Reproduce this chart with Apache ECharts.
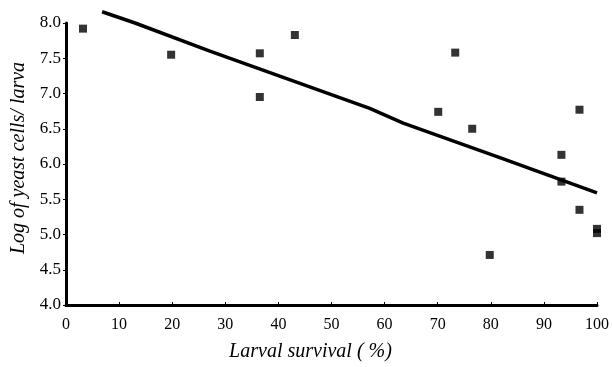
<!DOCTYPE html>
<html><head><meta charset="utf-8">
<script src="https://cdn.jsdelivr.net/npm/echarts@6/dist/echarts.min.js"></script>
<style>html,body{margin:0;padding:0;background:#fff}#c{width:612px;height:367px}</style>
</head><body><div id="c"></div>
<script>
var survival = [3.2, 19.8, 36.5, 36.5, 43.1, 70.1, 73.3, 76.5, 79.8, 93.3, 93.3, 96.7, 96.7, 100, 100];
var yeastLog = [7.92, 7.55, 7.57, 6.95, 7.83, 6.74, 7.58, 6.50, 4.71, 6.13, 5.75, 6.77, 5.35, 5.08, 5.02];
var fitX = [6.8, 13, 27.1, 57.2, 63.5, 81.7, 100];
var fitY = [8.16, 8.00, 7.60, 6.79, 6.58, 6.09, 5.59];
var xTicks = [0, 10, 20, 30, 40, 50, 60, 70, 80, 90, 100];
var yTicks = [4.0, 4.5, 5.0, 5.5, 6.0, 6.5, 7.0, 7.5, 8.0];

var pts = survival.map(function(v, i){ return [v, yeastLog[i]]; });
var fit = fitX.map(function(v, i){ return [v, fitY[i]]; });
var font = '"Liberation Serif", "DejaVu Serif", serif';
var chart = echarts.init(document.getElementById('c'));
chart.setOption({
  animation: false,
  backgroundColor: '#fff',
  grid: {left: 66, right: 15, top: 23, bottom: 57, containLabel: false},
  xAxis: {
    type: 'value', min: xTicks[0], max: xTicks[xTicks.length-1], interval: 10,
    name: 'Larval survival ( %)', nameLocation: 'middle', nameGap: 37,
    nameTextStyle: {fontFamily: font, fontStyle: 'italic', fontSize: 20, color: '#000', padding: [0, 42, 0, 0]},
    axisLine: {lineStyle: {color: '#000', width: 3}},
    axisTick: {inside: true, length: 3, lineStyle: {color: '#000', width: 1}},
    axisLabel: {fontFamily: font, fontSize: 16, color: '#000', margin: 12},
    splitLine: {show: false}
  },
  yAxis: {
    type: 'value', min: yTicks[0], max: yTicks[yTicks.length-1], interval: 0.5,
    name: 'Log of yeast cells/ larva', nameLocation: 'middle', nameGap: 31,
    nameTextStyle: {fontFamily: font, fontStyle: 'italic', fontSize: 20, color: '#000', padding: [0, 0, 0, 12]},
    axisLine: {show: true, lineStyle: {color: '#000', width: 3}},
    axisTick: {show: true, length: 3, lineStyle: {color: '#000', width: 1}},
    axisLabel: {fontFamily: font, fontSize: 17, color: '#000', margin: 5,
      formatter: function(v){ return v.toFixed(1); }},
    splitLine: {show: false}
  },
  series: [
    {type: 'line', data: fit, showSymbol: false, symbol: 'none', clip: false,
     lineStyle: {color: '#000', width: 3.5}, z: 2},
    {type: 'scatter', data: pts, symbol: 'rect', symbolSize: 8, clip: false,
     itemStyle: {color: '#000'}, z: 3}
  ]
});
</script></body></html>
